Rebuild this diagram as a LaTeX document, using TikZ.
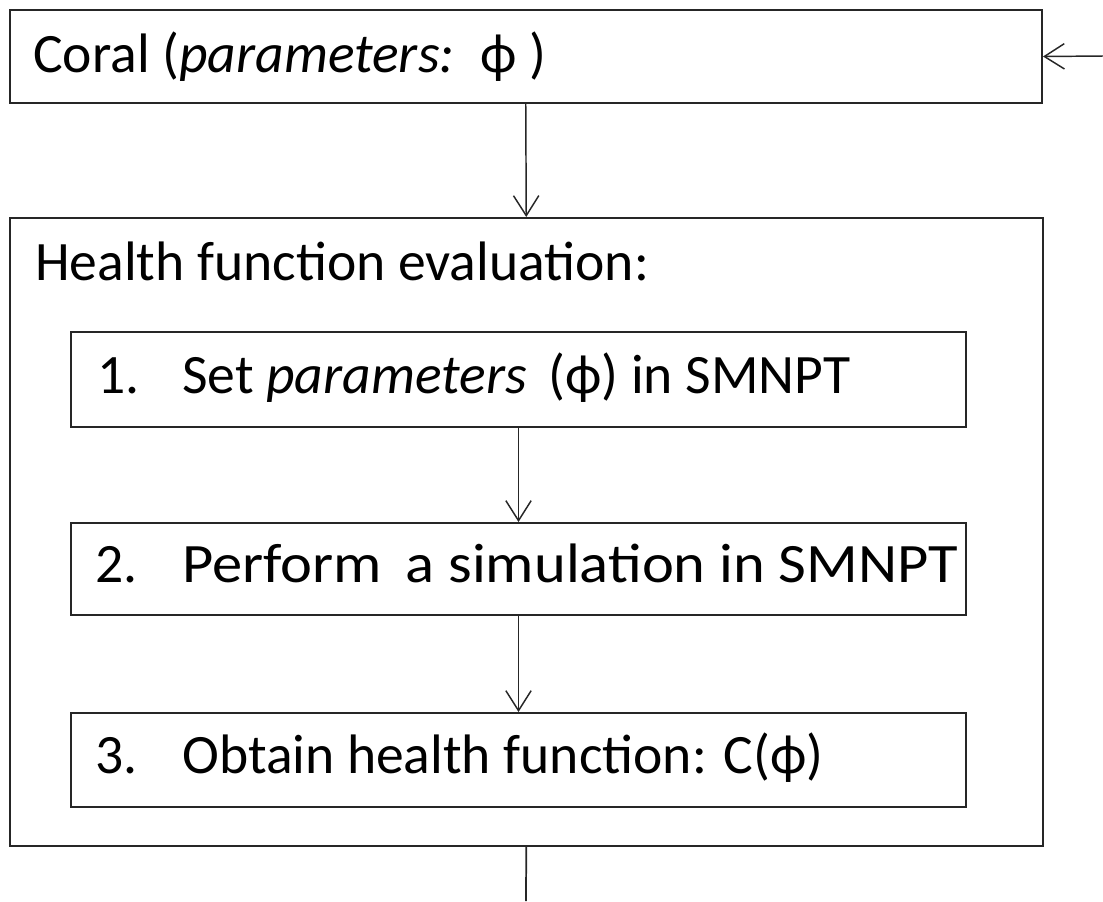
\documentclass[tikz,border=0pt]{standalone}
\usepackage{fontspec}
\setmainfont{Carlito}
\usetikzlibrary{arrows.meta}
\begin{document}
\begin{tikzpicture}[x=0.75pt,y=-0.75pt,
  frame/.style={draw=black!85,line width=1.5pt,rectangle,inner sep=0pt},
  conn/.style={draw=black!85,line width=1.1pt,-{Straight Barb[length=15pt,width=19pt,line width=1.1pt]}},
  plain/.style={draw=black!85,line width=1.3pt},
  txt/.style={anchor=base west,inner sep=0pt,font=\fontsize{41.7pt}{50pt}\selectfont}]
\useasboundingbox (0,0) rectangle (1103,901);

% outer boxes
\node[frame,minimum width={1032.5*0.75pt},minimum height={93*0.75pt}] (coral) at (525.75,56.5) {};
\node[frame,minimum width={1033.5*0.75pt},minimum height={628*0.75pt}] (health) at (526.25,532) {};

% the three steps
\node[frame,minimum width={895*0.75pt},minimum height={95*0.75pt}] (s1) at (518.5,379.5) {};
\node[frame,minimum width={895*0.75pt},minimum height={92*0.75pt}] (s2) at (518.5,569) {};
\node[frame,minimum width={895*0.75pt},minimum height={94*0.75pt}] (s3) at (518.5,760) {};

% labels
\node[txt] (coraltxt) at (33,72) {Coral (\textit{parameters:}\, ϕ )};
\node[txt] (healthtxt) at (35,280) {Health function evaluation:};
\node[txt] (n1) at (97,393) {1.};
\node[txt] (t1) at (182,393) {Set \textit{parameters}\, (ϕ) in SMNPT};
\node[txt] (n2) at (95,582.5) {2.};
\node[txt] (t2) at (182,582.5) {\scalebox{1.088}[1]{Perform\, a simulation in SMNPT}};
\node[txt] (n3) at (95,773.5) {3.};
\node[txt] (t3) at (182,773.5) {Obtain health function: C(ϕ)};

% connectors
\coordinate (loopin) at (1103,56);
\coordinate (loopout) at (526,901);
\draw[conn] (loopin) -- (coral.east);
\draw[conn] (coral.south) -- (health.north);
\draw[conn] (s1.south) -- (s2.north);
\draw[conn] (s2.south) -- (s3.north);
\draw[plain] (health.south) -- (loopout);
\end{tikzpicture}
\end{document}
